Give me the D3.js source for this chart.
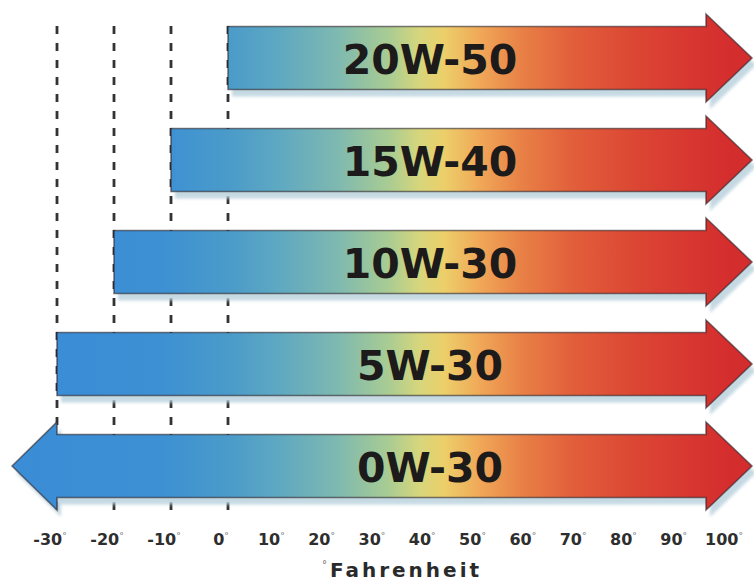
<!DOCTYPE html>
<html>
<head>
<meta charset="utf-8">
<script src="https://cdn.jsdelivr.net/npm/d3@7"></script>
<style>
  html, body { margin: 0; padding: 0; background: #ffffff; }
  svg { display: block; }
</style>
</head>
<body>
<svg id="chart" width="754" height="581"></svg>
<script>
// Motor-oil viscosity grades and the lowest outdoor temperature (°F) each suits
const grades = ["20W-50", "15W-40", "10W-30", "5W-30", "0W-30"];
const minTemps = [0, -10, -20, -30, -30];
const openBelow = [false, false, false, false, true];   // grade keeps going below the chart
const tickValues = [-30, -20, -10, 0, 10, 20, 30, 40, 50, 60, 70, 80, 90, 100];
const guideTemps = [-30, -20, -10, 0];
const axisTitle = "Fahrenheit";

// Colour ramp from cold (blue) to hot (red), keyed by temperature
const rampTemps  = [-30, -12, 0, 10, 22, 32, 38, 43, 50, 58, 68, 82, 100];
const rampColors = ["#3a8dd6", "#3d90d3", "#4a9bca", "#5ea8c2", "#7fb9b0", "#a9cc92", "#d6d67c",
                    "#eccf6a", "#f0a858", "#e98247", "#e2603b", "#db4433", "#d42d2e"];

const svg = d3.select("#chart");

const x = d3.scaleLinear().domain([-30, 0, 100]).range([57, 228, 731]);
const y = d3.scalePoint().domain(grades).range([58, 466]);
const ramp = d3.scaleLinear().domain(rampTemps).range(rampColors).interpolate(d3.interpolateRgb).clamp(true);

const bodyHalf = 31.5, headHalf = 44, headLen = 46;
const rightTip = x.range()[2] + 21;
const rightBack = rightTip - headLen;

const defs = svg.append("defs");
defs.append("filter").attr("id", "soft")
  .attr("x", "-5%").attr("y", "-20%").attr("width", "110%").attr("height", "140%")
  .append("feGaussianBlur").attr("stdDeviation", 1.6);

// Dashed guide lines at the cold-start thresholds (behind the arrows)
svg.append("g").selectAll("line")
  .data(guideTemps)
  .join("line")
  .attr("x1", d => x(d)).attr("x2", d => x(d))
  .attr("y1", 26).attr("y2", 518)
  .attr("stroke", "#333333")
  .attr("stroke-width", 2.8)
  .attr("stroke-dasharray", "8 9");

const rows = grades.map((g, i) => ({ grade: g, min: minTemps[i], open: openBelow[i], i }));

function arrowPath(d) {
  const cy = y(d.grade);
  const left = x(d.min);
  const p = d3.path();
  if (d.open) {
    p.moveTo(left - headLen + 1, cy);
    p.lineTo(left, cy - headHalf);
    p.lineTo(left, cy - bodyHalf);
  } else {
    p.moveTo(left, cy - bodyHalf);
  }
  p.lineTo(rightBack, cy - bodyHalf);
  p.lineTo(rightBack, cy - headHalf);
  p.lineTo(rightTip, cy);
  p.lineTo(rightBack, cy + headHalf);
  p.lineTo(rightBack, cy + bodyHalf);
  p.lineTo(left, cy + bodyHalf);
  if (d.open) p.lineTo(left, cy + headHalf);
  p.closePath();
  return p.toString();
}

// One gradient per arrow, starting from the ramp colour at its own cold limit
rows.forEach(d => {
  const x1 = d.open ? x(d.min) - headLen : x(d.min);
  const x2 = rightTip;
  const grad = defs.append("linearGradient")
    .attr("id", "grad" + d.i)
    .attr("gradientUnits", "userSpaceOnUse")
    .attr("x1", x1).attr("x2", x2).attr("y1", 0).attr("y2", 0);
  grad.append("stop").attr("offset", 0).attr("stop-color", ramp(d.min));
  rampTemps.forEach((t, k) => {
    if (t > d.min + 4) {
      grad.append("stop")
        .attr("offset", (x(t) - x1) / (x2 - x1))
        .attr("stop-color", rampColors[k]);
    }
  });
});

// Pale drop shadows
svg.append("g").selectAll("path")
  .data(rows)
  .join("path")
  .attr("d", arrowPath)
  .attr("transform", "translate(4,7)")
  .attr("fill", "#bcd3de")
  .attr("opacity", 0.85)
  .attr("filter", "url(#soft)");

// Arrows
svg.append("g").selectAll("path")
  .data(rows)
  .join("path")
  .attr("d", arrowPath)
  .attr("fill", d => `url(#grad${d.i})`)
  .attr("stroke", "rgba(45,35,40,0.6)")
  .attr("stroke-width", 1.6)
  .attr("stroke-linejoin", "miter");

// Grade labels
svg.append("g").selectAll("text")
  .data(rows)
  .join("text")
  .attr("x", 430)
  .attr("y", d => y(d.grade) + 16)
  .attr("text-anchor", "middle")
  .attr("font-family", "'DejaVu Sans', sans-serif")
  .attr("font-weight", "bold")
  .attr("font-size", 41)
  .attr("fill", "#1c1a1a")
  .text(d => d.grade);

// Temperature axis labels
const ticks = svg.append("g").selectAll("text")
  .data(tickValues)
  .join("text")
  .attr("x", d => x(d) - 7)
  .attr("y", 545)
  .attr("text-anchor", "middle")
  .attr("font-family", "'DejaVu Sans', sans-serif")
  .attr("font-weight", "bold")
  .attr("font-size", 16)
  .attr("fill", "#2e2e2e");
ticks.append("tspan").text(d => d);
ticks.append("tspan")
  .attr("font-size", 9).attr("dy", -6).attr("fill", "#8a8a8a")
  .text("°");

// Axis title
const title = svg.append("text")
  .attr("x", 402)
  .attr("y", 577)
  .attr("text-anchor", "middle")
  .attr("font-family", "'DejaVu Sans', sans-serif")
  .attr("font-weight", "bold")
  .attr("font-size", 20)
  .attr("letter-spacing", 3)
  .attr("fill", "#2a2a2a");
title.append("tspan").attr("font-size", 10).attr("dy", -9).attr("fill", "#8a8a8a").text("°");
title.append("tspan").attr("dy", 9).text(axisTitle);
</script>
</body>
</html>
